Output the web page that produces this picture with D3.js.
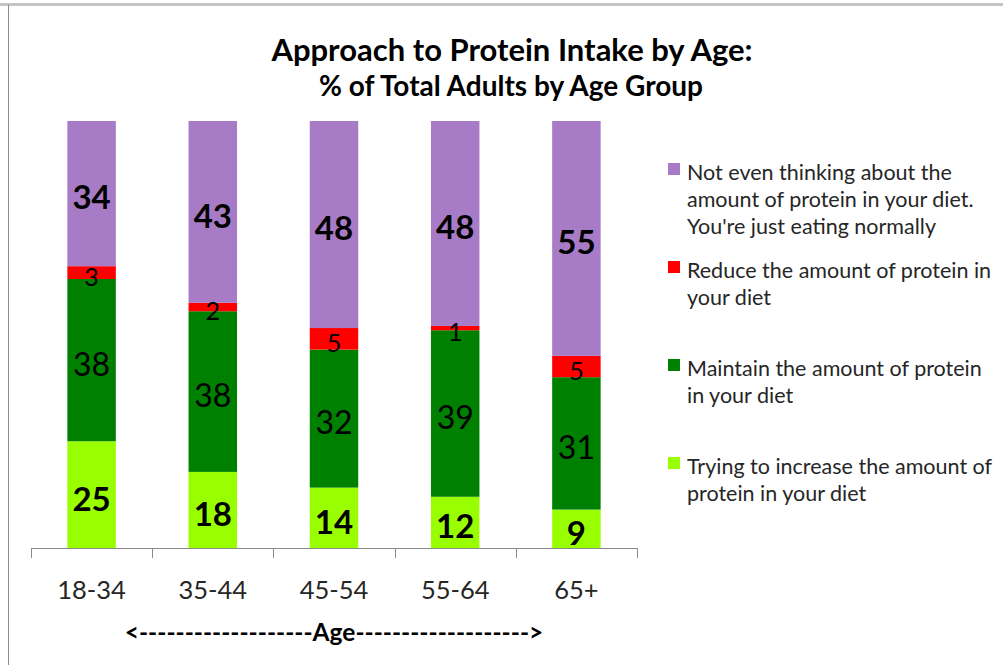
<!DOCTYPE html>
<html>
<head>
<meta charset="utf-8">
<script src="https://cdn.jsdelivr.net/npm/d3@7"></script>
<style>
  body { margin: 0; background: #fff; }
  svg text { font-family: Lato, "Open Sans", sans-serif; }
</style>
</head>
<body>
<svg id="chart" width="1003" height="665"></svg>
<script>
// chart data
const ageGroups = ["18-34", "35-44", "45-54", "55-64", "65+"];
const increase = [25, 18, 14, 12, 9];
const maintain = [38, 38, 32, 39, 31];
const reduce = [3, 2, 5, 1, 5];
const notThinking = [34, 43, 48, 48, 55];

const seriesKeys = ["increase", "maintain", "reduce", "notThinking"];
const legendLines = {
  notThinking: ["Not even thinking about the", "amount of protein in your diet.", "You're just eating normally"],
  reduce: ["Reduce the amount of protein in", "your diet"],
  maintain: ["Maintain the amount of protein", "in your diet"],
  increase: ["Trying to increase the amount of", "protein in your diet"]
};
const colors = { increase: "#99ff00", maintain: "#008000", reduce: "#ff0000", notThinking: "#a87bc6" };

const rows = ageGroups.map((g, i) => ({
  group: g,
  increase: increase[i],
  maintain: maintain[i],
  reduce: reduce[i],
  notThinking: notThinking[i]
}));

const svg = d3.select("#chart");

// frame
svg.append("line").attr("x1", 0).attr("x2", 1003).attr("y1", 4.5).attr("y2", 4.5)
  .attr("stroke", "#c4c4c4").attr("stroke-width", 3);
svg.append("line").attr("x1", 8.5).attr("x2", 8.5).attr("y1", 5).attr("y2", 665)
  .attr("stroke", "#8c8c8c").attr("stroke-width", 1);

// titles
svg.append("text").attr("x", 512).attr("y", 61).attr("text-anchor", "middle")
  .attr("font-size", 31).attr("font-weight", "bold").attr("fill", "#000")
  .text("Approach to Protein Intake by Age:");
svg.append("text").attr("x", 511).attr("y", 96).attr("text-anchor", "middle")
  .attr("font-size", 28).attr("font-weight", "bold").attr("fill", "#000")
  .text("% of Total Adults by Age Group");

const x = d3.scaleBand().domain(ageGroups).range([31, 637])
  .paddingInner(0.6).paddingOuter(0.3);
const y = d3.scaleLinear().domain([0, 1]).range([548, 121]);

const stack = d3.stack().keys(seriesKeys).offset(d3.stackOffsetExpand);
const stacked = stack(rows);

const layers = svg.append("g").selectAll("g")
  .data(stacked)
  .join("g")
  .attr("fill", d => colors[d.key]);

layers.selectAll("rect")
  .data(d => d)
  .join("rect")
  .attr("x", d => x(d.data.group))
  .attr("width", x.bandwidth())
  .attr("y", d => y(d[1]))
  .attr("height", d => y(d[0]) - y(d[1]));

// data labels, sit a little below the segment middle like the original
const labelStyle = {
  increase: { size: 33, weight: "bold" },
  maintain: { size: 32, weight: "normal" },
  reduce: { size: 25, weight: "normal" },
  notThinking: { size: 33, weight: "bold" }
};
stacked.forEach(layer => {
  const st = labelStyle[layer.key];
  svg.append("g").selectAll("text")
    .data(layer)
    .join("text")
    .attr("x", d => x(d.data.group) + x.bandwidth() / 2)
    .attr("y", d => (y(d[0]) + y(d[1])) / 2 + 4)
    .attr("dy", "0.36em")
    .attr("text-anchor", "middle")
    .attr("font-size", st.size)
    .attr("font-weight", st.weight)
    .attr("fill", "#000")
    .text(d => d.data[layer.key]);
});

// x axis with ticks at category boundaries
const axis = svg.append("g");
axis.append("line").attr("x1", 31).attr("x2", 637).attr("y1", 548.5).attr("y2", 548.5)
  .attr("stroke", "#898989");
d3.range(ageGroups.length + 1).forEach(i => {
  const bx = Math.round(31 + i * x.step()) + 0.5;
  axis.append("line").attr("x1", bx).attr("x2", bx).attr("y1", 548).attr("y2", 558)
    .attr("stroke", "#898989");
});
axis.selectAll("text.cat")
  .data(ageGroups)
  .join("text")
  .attr("class", "cat")
  .attr("x", d => x(d) + x.bandwidth() / 2)
  .attr("y", 599)
  .attr("text-anchor", "middle")
  .attr("font-size", 25.5)
  .attr("fill", "#262626")
  .text(d => d);

svg.append("text").attr("x", 334).attr("y", 641).attr("text-anchor", "middle")
  .attr("font-size", 24.5).attr("font-weight", "bold").attr("fill", "#000")
  .text("<-------------------Age------------------->");

// legend
const legendOrder = ["notThinking", "reduce", "maintain", "increase"];
const legendTop = { notThinking: 172, reduce: 270, maintain: 368, increase: 466 };
legendOrder.forEach(k => {
  const g = svg.append("g");
  g.append("rect").attr("x", 668).attr("y", legendTop[k] - 9).attr("width", 12).attr("height", 12)
    .attr("fill", colors[k]);
  g.selectAll("text")
    .data(legendLines[k])
    .join("text")
    .attr("x", 687)
    .attr("y", (d, i) => legendTop[k] + i * 27)
    .attr("dy", "0.35em")
    .attr("font-size", 21.5)
    .attr("fill", "#262626")
    .text(d => d);
});
</script>
</body>
</html>
